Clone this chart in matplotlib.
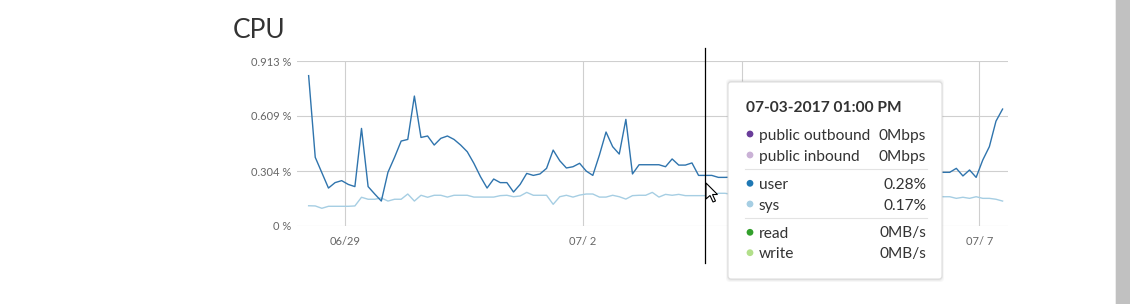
import pandas as pd
import numpy as np
import matplotlib
matplotlib.use('Agg')
import matplotlib.pyplot as plt
import matplotlib.dates as mdates
from matplotlib.patches import FancyBboxPatch, Circle, Polygon, Rectangle
from matplotlib.lines import Line2D

plt.rcParams['font.family'] = ['Lato', 'DejaVu Sans']

# --- data (2-hourly samples, CPU %) ---
start_time = '2017-06-28 13:00'
user_pct = [
    0.832, 0.380, 0.295, 0.210, 0.240, 0.251, 0.230, 0.218, 0.540, 0.218,
    0.177, 0.138, 0.297, 0.380, 0.470, 0.479, 0.719, 0.490, 0.498, 0.448,
    0.485, 0.498, 0.479, 0.448, 0.411, 0.347, 0.273, 0.210, 0.260, 0.240,
    0.240, 0.188, 0.230, 0.291, 0.280, 0.288, 0.319, 0.420, 0.361, 0.321,
    0.328, 0.347, 0.304, 0.280, 0.393, 0.520, 0.439, 0.398, 0.590, 0.288,
    0.339, 0.339, 0.339, 0.339, 0.328, 0.371, 0.337, 0.337, 0.349, 0.280,
    0.280, 0.280, 0.269, 0.269,
    # behind the tooltip (estimated)
    0.270, 0.275, 0.280, 0.290, 0.285, 0.300, 0.310, 0.295, 0.285, 0.280,
    0.300, 0.320, 0.310, 0.290, 0.280, 0.285, 0.300, 0.295, 0.290, 0.305,
    0.310, 0.300, 0.285, 0.280, 0.290, 0.300, 0.295, 0.290, 0.300, 0.305,
    0.300, 0.297,
    0.297, 0.297, 0.319, 0.277, 0.310, 0.269, 0.365, 0.439, 0.580, 0.647,
]
sys_pct = [
    0.112, 0.111, 0.098, 0.109, 0.109, 0.109, 0.109, 0.111, 0.159, 0.148,
    0.148, 0.155, 0.138, 0.148, 0.148, 0.177, 0.138, 0.170, 0.159, 0.170,
    0.170, 0.160, 0.170, 0.170, 0.170, 0.160, 0.160, 0.160, 0.160, 0.168,
    0.170, 0.162, 0.166, 0.186, 0.170, 0.170, 0.170, 0.120, 0.162, 0.170,
    0.160, 0.171, 0.177, 0.177, 0.160, 0.160, 0.170, 0.162, 0.149, 0.168,
    0.170, 0.170, 0.186, 0.160, 0.175, 0.170, 0.175, 0.168, 0.168, 0.168,
    0.168, 0.171, 0.181, 0.181,
    # behind the tooltip (estimated)
    0.175, 0.170, 0.168, 0.172, 0.165, 0.170, 0.168, 0.162, 0.170, 0.165,
    0.168, 0.172, 0.160, 0.165, 0.170, 0.168, 0.165, 0.162, 0.170, 0.166,
    0.163, 0.168, 0.165, 0.160, 0.166, 0.170, 0.165, 0.162, 0.168, 0.165,
    0.163, 0.165,
    0.162, 0.162, 0.153, 0.159, 0.153, 0.162, 0.153, 0.153, 0.148, 0.138,
]
y_ticks = [0, 0.304, 0.609, 0.913]
y_tick_labels = ['0 %', '0.304 %', '0.609 %', '0.913 %']
x_tick_dates = ['2017-06-29', '2017-07-02', '2017-07-04', '2017-07-07']
x_tick_labels = ['06/29', '07/ 2', '07/ 4', '07/ 7']
hover_time = '2017-07-03 13:00'

tooltip_title = '07-03-2017 01:00 PM'
tooltip_labels = ['public outbound', 'public inbound', 'user', 'sys', 'read', 'write']
tooltip_values = ['0Mbps', '0Mbps', '0.28%', '0.17%', '0MB/s', '0MB/s']
tooltip_colors = ['#6a3d9a', '#cab2d6', '#1f78b4', '#a6cee3', '#33a02c', '#b2df8a']

times = pd.date_range(start_time, periods=len(user_pct), freq='2h')
df = pd.DataFrame({'user': user_pct, 'sys': sys_pct}, index=times)

W, H = 1130, 304
fig = plt.figure(figsize=(W / 100, H / 100), dpi=100)
fig.patch.set_facecolor('white')

# axes placed to match the pixel frame of the reference
left, right, top, bottom = 297, 1008, 61, 226
ax = fig.add_axes([left / W, 1 - bottom / H, (right - left) / W, (bottom - top) / H])

grid_c = '#cfcfcf'
ax.plot(df.index, df['sys'], color='#a6cee3', lw=1.0, zorder=3)
ax.plot(df.index, df['user'], color='#2f74ad', lw=1.0, zorder=4)

x0 = pd.Timestamp('2017-06-29') - pd.Timedelta(days=0.605)
x1 = pd.Timestamp('2017-07-07') + pd.Timedelta(days=0.36)
ax.set_xlim(x0, x1)
ax.set_ylim(0, 0.913)

ax.set_yticks(y_ticks)
ax.set_yticklabels(y_tick_labels)
ax.set_xticks(pd.to_datetime(x_tick_dates))
ax.set_xticklabels(x_tick_labels)
ax.tick_params(length=0, labelsize=8, labelcolor='#666666')
ax.tick_params(axis='y', pad=4)
ax.tick_params(axis='x', pad=7)
ax.grid(True, color=grid_c, lw=0.8)
ax.set_axisbelow(True)
for s in ax.spines.values():
    s.set_visible(False)

# hover cursor line
ax.axvline(pd.Timestamp(hover_time), ymin=-0.224, ymax=1.08, color='black',
           lw=0.9, clip_on=False, zorder=6)

# title
fig.text(233 / W, 1 - 37.5 / H, 'CPU', fontsize=19, color='#333333', va='baseline')

# helpers for pixel placement of the overlay
tr = fig.dpi_scale_trans


def px(x, y):
    return (x / 100, (H - y) / 100)


# mouse pointer
arrow = [(0, 0), (0, 16), (4, 12.5), (7, 19), (9.5, 18), (6.5, 11.5), (11.5, 11.5)]
pointer = Polygon([px(706 + a, 183 + b) for a, b in arrow], closed=True,
                  facecolor='white', edgecolor='black', lw=0.8, transform=tr, zorder=20)
fig.add_artist(pointer)

# tooltip box with soft shadow
for i, a in enumerate([0.05, 0.04, 0.03]):
    d = i + 1
    sh = FancyBboxPatch(px(728 - d + 1, 279 + d), (214 + 2 * d - 2) / 100, (197 + 2 * d) / 100,
                        boxstyle='round,pad=0,rounding_size=0.04', transform=tr,
                        facecolor='black', edgecolor='none', alpha=a, zorder=21)
    fig.add_artist(sh)
box = FancyBboxPatch(px(728, 279), 214 / 100, 197 / 100,
                     boxstyle='round,pad=0,rounding_size=0.03', transform=tr,
                     facecolor='white', edgecolor='#dddddd', lw=0.8, zorder=22)
fig.add_artist(box)

fig.text(*px(746, 112.5), tooltip_title, transform=tr, fontsize=11.2, fontweight='bold',
         color='#333333', va='baseline', zorder=23)

dot_y = [134, 155, 183.3, 204, 232.3, 252.7]
base_y = [140, 161, 189, 209.7, 237.5, 258.3]
for lab, val, col, dy, by in zip(tooltip_labels, tooltip_values, tooltip_colors, dot_y, base_y):
    fig.add_artist(Circle(px(750, dy), 3.4 / 100, transform=tr, facecolor=col,
                          edgecolor='none', zorder=23))
    fig.text(*px(759, by), lab, transform=tr, fontsize=11.2, color='#333333',
             va='baseline', zorder=23)
    fig.text(*px(926, by), val, transform=tr, fontsize=11.2, color='#333333',
             va='baseline', ha='right', zorder=23)

for sy in [169.3, 218.3]:
    fig.add_artist(Line2D([745 / 100, 927 / 100], [(H - sy) / 100] * 2, transform=tr,
                          color='#e3e3e3', lw=0.8, zorder=23))

# browser scrollbar on the right edge
fig.add_artist(Rectangle(px(1115, H), 1 / 100, H / 100, transform=tr,
                         facecolor='#ececec', edgecolor='none', zorder=24))
fig.add_artist(Rectangle(px(1116, H), 14 / 100, H / 100, transform=tr,
                         facecolor='#c1c1c1', edgecolor='none', zorder=24))

fig.savefig('out.png', dpi=100)
